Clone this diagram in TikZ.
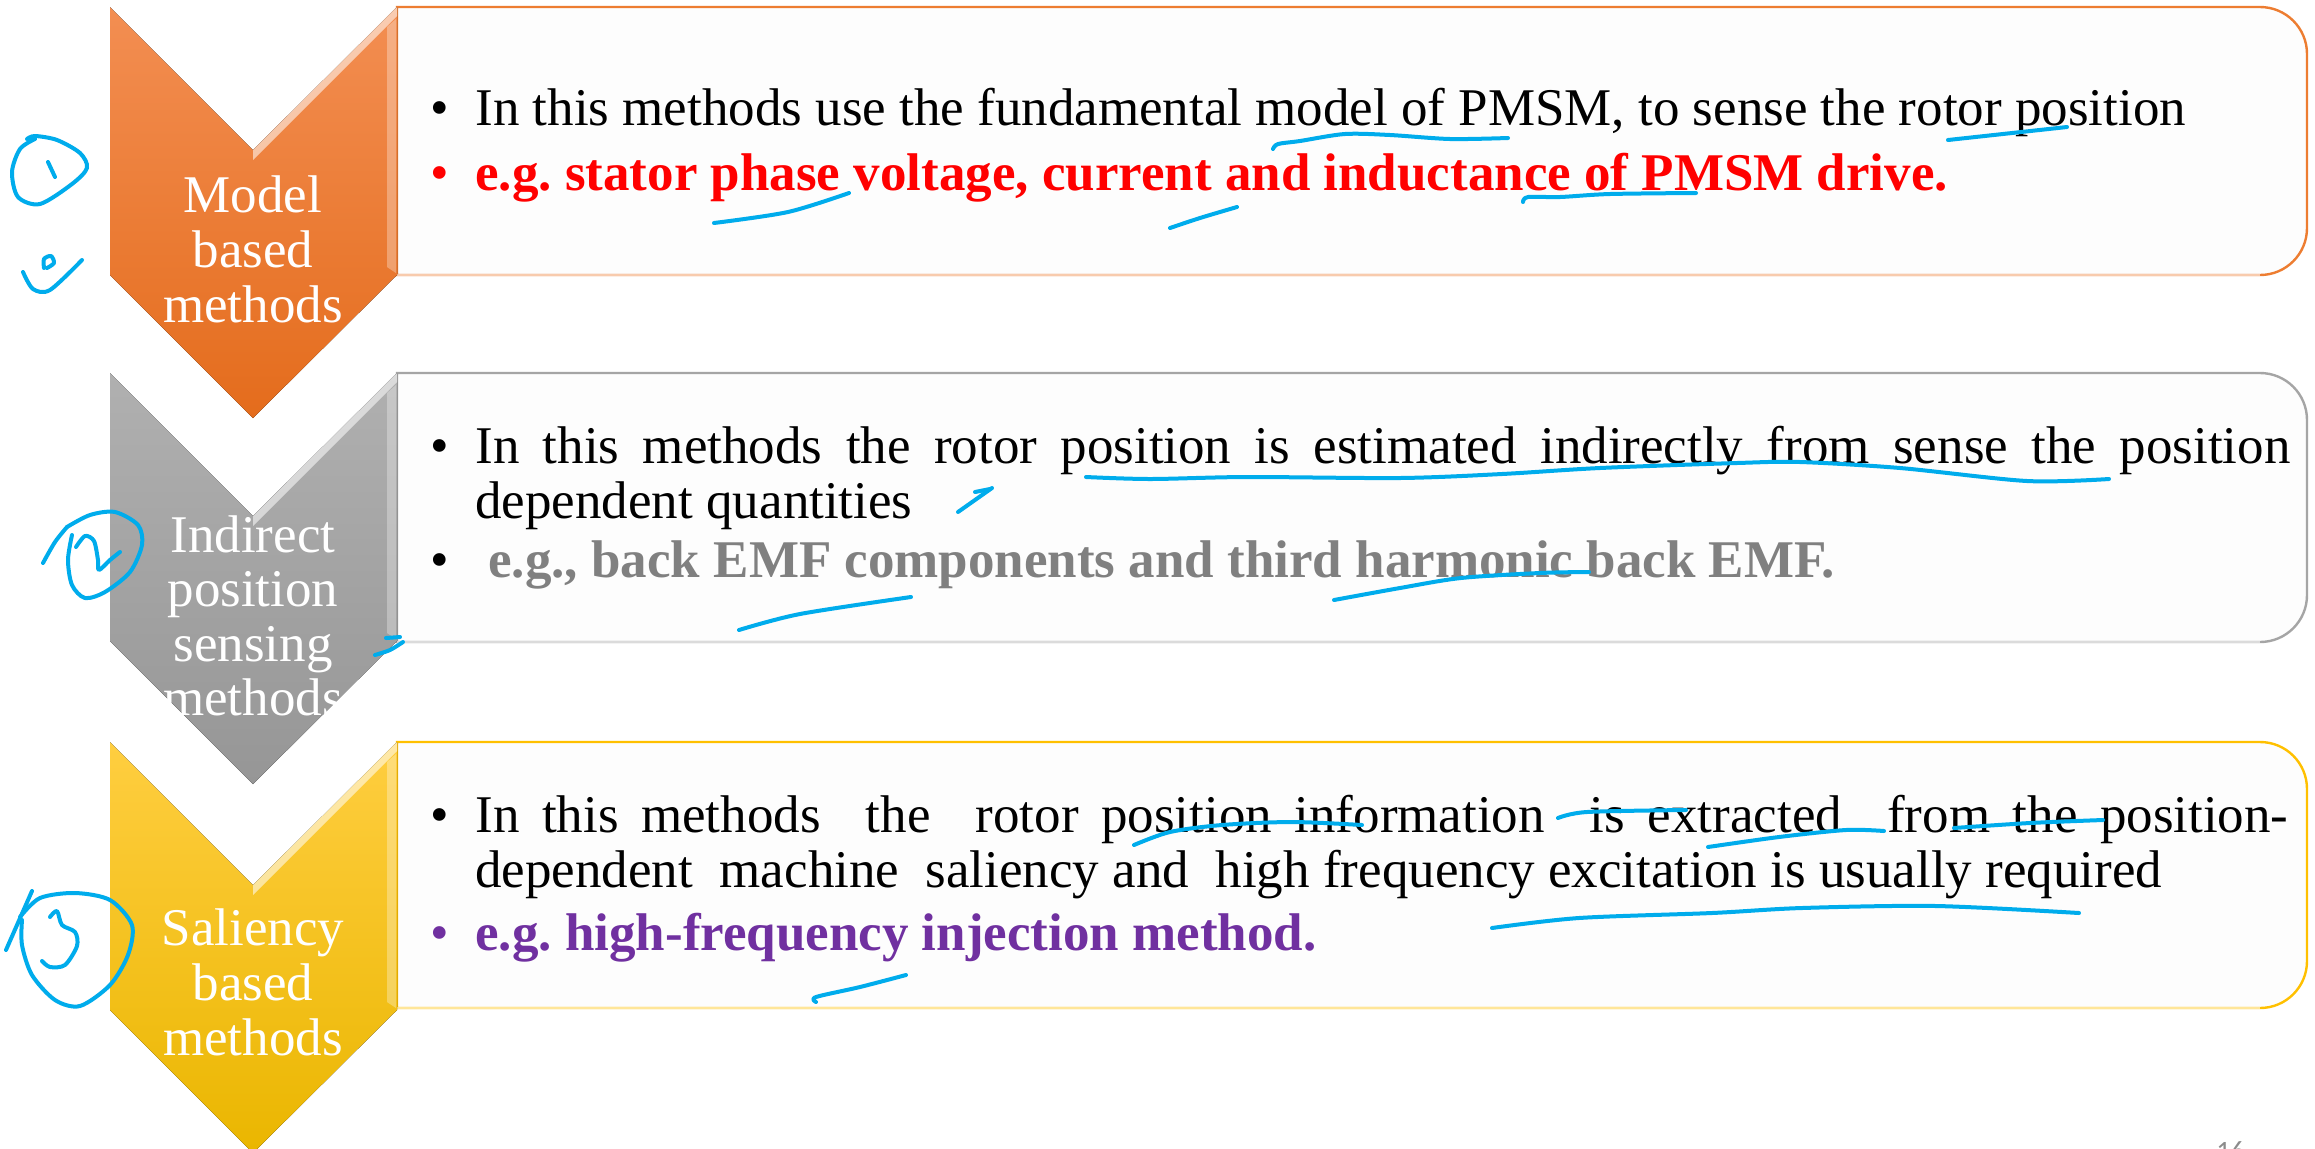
\documentclass[tikz,border=0pt]{standalone}
\usepackage{fontspec}
\setmainfont{Liberation Serif}
\newfontfamily\numfont{Carlito}
\frenchspacing

% palette
\definecolor{orgA}{RGB}{243,142,82}
\definecolor{orgB}{RGB}{228,108,28}
\definecolor{gryA}{RGB}{176,176,176}
\definecolor{gryB}{RGB}{150,150,150}
\definecolor{ylwA}{RGB}{255,206,64}
\definecolor{ylwB}{RGB}{234,182,0}
\definecolor{orgLine}{RGB}{237,125,49}
\definecolor{gryLine}{RGB}{165,165,165}
\definecolor{ylwLine}{RGB}{255,192,0}
\definecolor{boxfill}{RGB}{253,253,253}
\definecolor{egred}{RGB}{255,0,0}
\definecolor{eggray}{RGB}{128,128,128}
\definecolor{egpurple}{RGB}{112,48,160}
\definecolor{inkblue}{RGB}{0,172,236}
\definecolor{pagegray}{RGB}{140,140,140}

\newcommand{\bodyfont}{\fontsize{26.5}{27.5}\selectfont\frenchspacing}

% text panel: square on the left, rounded on the right (top, bottom, colour)
\newcommand{\sidepanel}[3]{%
  \draw[line width=1.2pt, draw=#3, fill=boxfill]
    (397,#1) -- (2260,#1) .. controls (2286,#1) and (2307,#1+21) .. (2307,#1+47)
    -- (2307,#2-47) .. controls (2307,#2-21) and (2286,#2) .. (2260,#2)
    -- (397,#2) -- cycle;
  \draw[line width=1.2pt, draw=#3!40] (397,#2) -- (2260,#2);
}

% downward chevron with a light bevel (top, upper colour, lower colour)
\newcommand{\chevshape}[3]{%
  \fill[top color=#2, bottom color=#3]
    (110,#1) -- (253,#1+143) -- (397,#1) -- (397,#1+268) -- (253,#1+411) -- (110,#1+268) -- cycle;
  \fill[white, opacity=0.55]
    (253,#1+143) -- (397,#1) -- (397,#1+9) -- (390,#1+16) -- (253,#1+153) -- cycle;
  \fill[white, opacity=0.3]
    (387,#1+20) -- (396,#1+12) -- (396,#1+266) -- (387,#1+260) -- cycle;
}

\begin{document}
\begin{tikzpicture}[x=0.5pt, y=-0.5pt,
  lbl/.style={anchor=base, inner sep=0pt, text=white, font=\bodyfont},
  txt/.style={anchor=base west, inner sep=0pt, font=\bodyfont},
  bul/.style={anchor=base west, inner sep=0pt, font=\bodyfont},
  ink/.style={draw=inkblue, line width=2pt, line cap=round, line join=round}]

\useasboundingbox (0,0) rectangle (2315,1148);
\clip (0,0) rectangle (2315,1148);
\fill[white] (0,0) rectangle (2315,1148);

% panels
\sidepanel{7}{275}{orgLine}
\sidepanel{373}{642}{gryLine}
\sidepanel{742}{1008}{ylwLine}

% chevrons
\chevshape{7}{orgA}{orgB}
\chevshape{373}{gryA}{gryB}
\chevshape{742}{ylwA}{ylwB}

% chevron labels
\node[lbl] (c1a) at (253,212) {Model};
\node[lbl] (c1b) at (253,267) {based};
\node[lbl] (c1c) at (253,322) {methods};

\node[lbl] (c2a) at (253,552) {Indirect};
\node[lbl] (c2b) at (253,606) {position};
\node[lbl] (c2c) at (253,661) {sensing};
\node[lbl] (c2d) at (253,715) {methods};

\node[lbl] (c3a) at (253,945) {Saliency};
\node[lbl] (c3b) at (253,1000) {based};
\node[lbl] (c3c) at (253,1055) {methods};

% first panel
\node[bul] (b1a) at (430,125) {\textbullet};
\node[txt] (t1a) at (475,125) {In this methods use the fundamental model of PMSM, to sense the rotor position};
\node[bul, text=egred] (b1b) at (430,190) {\textbullet};
\node[txt, text=egred, font=\bodyfont\bfseries] (t1b) at (475,190) {e.g. stator phase voltage, current and inductance of PMSM drive.};

% second panel
\node[bul] (b2a) at (430,463) {\textbullet};
\node[txt] (t2a) at (475,463) {\makebox[907.5pt][s]{In this methods the rotor position is estimated indirectly from sense the position}};
\node[txt] (t2b) at (475,518) {dependent quantities};
\node[bul] (b2c) at (430,577) {\textbullet};
\node[txt, text=eggray, font=\bodyfont\bfseries] (t2c) at (488,577) {e.g., back EMF components and third harmonic back EMF.};

% third panel
\node[bul] (b3a) at (430,832) {\textbullet};
\node[txt] (t3a) at (475,832) {\makebox[906.5pt][s]{In this methods\ \ the\ \ rotor position information\ \ is extracted\ \ from the position-}};
\node[txt] (t3b) at (475,887) {dependent\ \ machine\ \ saliency and\ \ high frequency excitation is usually required};
\node[bul, text=egpurple] (b3c) at (430,950) {\textbullet};
\node[txt, text=egpurple, font=\bodyfont\bfseries] (t3c) at (475,950) {e.g. high-frequency injection method.};

% slide number
\node[anchor=base west, inner sep=0pt, text=pagegray, font=\numfont\fontsize{14}{14}\selectfont] (pg) at (2216,1160) {16};

% handwritten pen marks
% circled 1 and the mark beneath it
\draw[ink] plot[smooth] coordinates {(27,139) (35,136) (57,140) (80,153) (87,168) (72,184) (40,204) (18,197) (12,172) (20,149) (35,139)};
\draw[ink] (48,162) -- (55,177);
\draw[ink] plot[smooth] coordinates {(23,272) (33,289) (50,290) (82,260)};
\draw[ink] plot[smooth] coordinates {(44,268) (44,259) (51,256) (54,263) (47,268)};
% circled 2
\draw[ink] plot[smooth] coordinates {(43,563) (55,542) (67,527)};
\draw[ink] plot[smooth] coordinates {(67,527) (90,515) (115,512) (138,525) (142,545) (130,572) (105,592) (85,598) (72,585) (68,560) (72,535)};
\draw[ink] plot[smooth] coordinates {(76,547) (85,536) (94,541) (98,560) (99,570) (110,560) (120,552)};
% circled 3
\draw[ink] (32,891) -- (6,950);
\draw[ink] plot[smooth] coordinates {(20,917) (40,898) (75,893) (110,900) (132,925) (128,955) (110,985) (80,1006) (55,1000) (32,975) (22,945) (22,920)};
\draw[ink] plot[smooth] coordinates {(50,917) (57,911) (62,925) (75,932) (77,946) (65,965) (50,967) (42,961)};

% first panel marks
\draw[ink] plot[smooth] coordinates {(1273,149) (1278,144) (1300,141) (1345,134) (1390,135) (1450,139) (1508,138)};
\draw[ink] (1948,140) -- (2067,127);
\draw[ink] plot[smooth] coordinates {(714,223) (788,212) (849,193)};
\draw[ink] plot[smooth] coordinates {(1170,228) (1200,218) (1237,207)};
\draw[ink] plot[smooth] coordinates {(1523,202) (1528,197) (1560,197) (1610,194) (1696,193)};

% second panel marks
\draw[ink] plot[smooth] coordinates {(1086,477) (1150,479) (1247,477) (1400,478) (1502,474) (1600,468) (1737,463) (1800,462) (1900,468) (2027,481) (2109,479)};
\draw[ink] plot[smooth] coordinates {(958,512) (975,500) (992,488)};
\draw[ink] (975,492) -- (990,489);
\draw[ink] plot[smooth] coordinates {(739,630) (800,614) (911,597)};
\draw[ink] plot[smooth] coordinates {(1334,600) (1400,588) (1461,578) (1540,573) (1589,572)};
\draw[ink] plot[smooth] coordinates {(375,655) (390,650) (403,642)};
\draw[ink] (386,638) -- (400,637);

% third panel marks
\draw[ink] plot[smooth] coordinates {(1134,845) (1170,832) (1222,825) (1292,822) (1362,825)};
\draw[ink] plot[smooth] coordinates {(1558,818) (1587,812) (1686,810)};
\draw[ink] plot[smooth] coordinates {(1708,847) (1779,837) (1846,830) (1884,831)};
\draw[ink] plot[smooth] coordinates {(1954,828) (2030,823) (2103,820)};
\draw[ink] plot[smooth] coordinates {(1492,928) (1579,918) (1712,913) (1802,908) (1936,906) (2079,913)};
\draw[ink] plot[smooth] coordinates {(816,1002) (816,997) (860,987) (906,975)};

\end{tikzpicture}
\end{document}
